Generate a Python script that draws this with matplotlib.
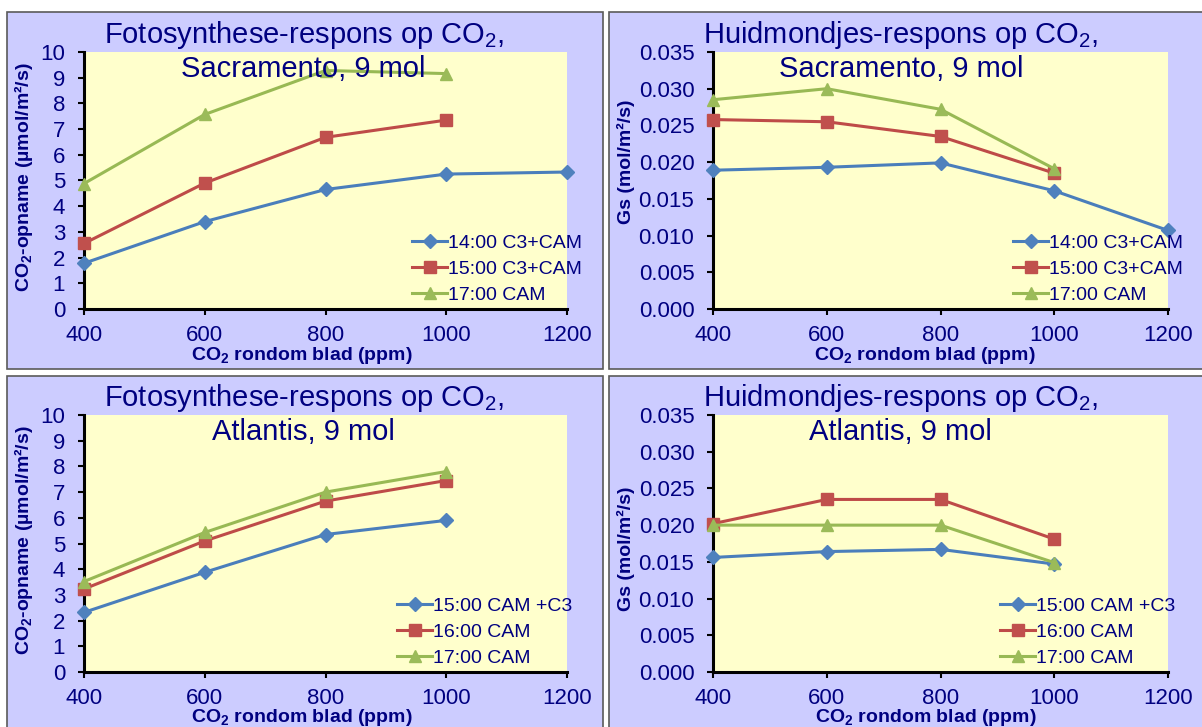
import matplotlib
matplotlib.use("Agg")
import matplotlib.pyplot as plt
from matplotlib.patches import Rectangle
from matplotlib.ticker import MultipleLocator, FormatStrFormatter

plt.rcParams['font.family'] = ['Liberation Sans', 'DejaVu Sans']
plt.rcParams['mathtext.fontset'] = 'custom'
plt.rcParams['mathtext.rm'] = 'Liberation Sans'
plt.rcParams['mathtext.it'] = 'Liberation Sans:italic'
plt.rcParams['mathtext.bf'] = 'Liberation Sans:bold'

# ==========================================
# data
# ==========================================
co2_ppm = [400, 600, 800, 1000, 1200]

# Sacramento, 9 mol
sac_labels = ["14:00 C3+CAM", "15:00 C3+CAM", "17:00 CAM"]
sac_foto_1400 = [1.78, 3.40, 4.65, 5.25, 5.33]
sac_foto_1500 = [2.55, 4.90, 6.68, 7.35]
sac_foto_1700 = [4.88, 7.57, 9.28, 9.16]
sac_gs_1400 = [0.0189, 0.0193, 0.0199, 0.0161, 0.0107]
sac_gs_1500 = [0.0258, 0.0255, 0.0235, 0.0185]
sac_gs_1700 = [0.0285, 0.0300, 0.0272, 0.0191]

# Atlantis, 9 mol
atl_labels = ["15:00 CAM +C3", "16:00 CAM", "17:00 CAM"]
atl_foto_1500 = [2.32, 3.88, 5.35, 5.90]
atl_foto_1600 = [3.23, 5.10, 6.65, 7.45]
atl_foto_1700 = [3.52, 5.43, 7.00, 7.80]
atl_gs_1500 = [0.0156, 0.0164, 0.0167, 0.0147]
atl_gs_1600 = [0.0202, 0.0235, 0.0235, 0.0181]
atl_gs_1700 = [0.0200, 0.0200, 0.0200, 0.0149]

# ==========================================
# styling
# ==========================================
W, H = 1202, 727
NAVY = "#000080"
PANEL = "#CCCCFF"
PLOT_BG = "#FFFFCC"
line_cols = ["#4A7EBB", "#BE4B48", "#98B954"]
mark_cols = ["#4F81BD", "#C0504D", "#9BBB59"]
markers = [("D", 7), ("s", 8), ("^", 9)]


def fx(px):
    return px / W


def fy(py):
    return 1 - py / H


fig = plt.figure(figsize=(W / 100, H / 100), dpi=100, facecolor="white")

# lavender chart panels with a thin grey frame
for (x0, y0, x1, y1) in [(7, 12, 603, 369), (609, 12, 1212, 369),
                         (7, 376, 603, 740), (609, 376, 1212, 740)]:
    fig.patches.append(Rectangle((fx(x0), fy(y1)), fx(x1 - x0), (y1 - y0) / H,
                                 transform=fig.transFigure, facecolor=PANEL,
                                 edgecolor="#5a5a5a", linewidth=1.2, zorder=-1))


def make_panel(left, right, top, bottom, series, labels, ymax, ystep, yfmt,
               leg_x, title1, title2, t1x, t2x, t_base, xl_x, yl_text, yl_x, yl_y):
    ax = fig.add_axes([fx(left), fy(bottom), (right - left) / W, (bottom - top) / H])
    ax.set_zorder(1)
    ax.set_facecolor(PLOT_BG)
    for i, ys in enumerate(series):
        m, ms = markers[i]
        ax.plot(co2_ppm[:len(ys)], ys, color=line_cols[i], linewidth=2.2,
                marker=m, markersize=ms, markerfacecolor=mark_cols[i],
                markeredgecolor=mark_cols[i], label=labels[i], clip_on=False, zorder=3)
    ax.set_xlim(400, 1200)
    ax.set_ylim(0, ymax)
    ax.xaxis.set_major_locator(MultipleLocator(200))
    ax.yaxis.set_major_locator(MultipleLocator(ystep))
    ax.yaxis.set_major_formatter(FormatStrFormatter(yfmt))
    for s in ["top", "right"]:
        ax.spines[s].set_visible(False)
    for s in ["left", "bottom"]:
        ax.spines[s].set_linewidth(2.2)
        ax.spines[s].set_color("black")
    ax.tick_params(axis="both", direction="out", length=4.5, width=1.5,
                   colors="black", labelcolor=NAVY, labelsize=16)
    ax.tick_params(axis="x", pad=7)
    ax.tick_params(axis="y", pad=9)
    leg = ax.legend(loc="lower left", bbox_to_anchor=((leg_x - left) / (right - left), 0.02),
                    frameon=False, fontsize=14, handlelength=1.8, handletextpad=0.05,
                    labelspacing=0.42, borderpad=0, borderaxespad=0)
    for t in leg.get_texts():
        t.set_color(NAVY)
    fig.text(fx(t1x), fy(t_base), title1, ha="center", va="baseline",
             fontsize=21, color=NAVY, zorder=5)
    fig.text(fx(t2x), fy(t_base + 34), title2, ha="center", va="baseline",
             fontsize=21, color=NAVY, zorder=5)
    fig.text(fx(xl_x), fy(bottom + 46), r"CO$_\mathbf{2}$ rondom blad (ppm)",
             ha="center", va="center", fontsize=14, fontweight="bold", color=NAVY, zorder=5)
    fig.text(fx(yl_x), fy(yl_y), yl_text, ha="center", va="center", rotation=90,
             fontsize=14, fontweight="bold", color=NAVY, zorder=5)
    return ax


foto_ylabel = r"CO$_\mathbf{2}$-opname (µmol/m²/s)"
gs_ylabel = "Gs (mol/m²/s)"

# Fotosynthese-respons op CO2, Sacramento
make_panel(84, 567, 52, 309, [sac_foto_1400, sac_foto_1500, sac_foto_1700], sac_labels,
           10, 1, "%d", 412, r"Fotosynthese-respons op CO$_2$,", "Sacramento, 9 mol",
           304, 303, 43, 302, foto_ylabel, 24, 177)

# Huidmondjes-respons op CO2, Sacramento
make_panel(713, 1168, 52, 309, [sac_gs_1400, sac_gs_1500, sac_gs_1700], sac_labels,
           0.035, 0.005, "%.3f", 1013, r"Huidmondjes-respons op CO$_2$,", "Sacramento, 9 mol",
           901, 901, 43, 925, gs_ylabel, 626, 162)

# Fotosynthese-respons op CO2, Atlantis
make_panel(84, 567, 415, 672, [atl_foto_1500, atl_foto_1600, atl_foto_1700], atl_labels,
           10, 1, "%d", 397, r"Fotosynthese-respons op CO$_2$,", "Atlantis, 9 mol",
           304, 303, 406, 302, foto_ylabel, 24, 540)

# Huidmondjes-respons op CO2, Atlantis
make_panel(713, 1168, 415, 672, [atl_gs_1500, atl_gs_1600, atl_gs_1700], atl_labels,
           0.035, 0.005, "%.3f", 1000, r"Huidmondjes-respons op CO$_2$,", "Atlantis, 9 mol",
           901, 900, 406, 926, gs_ylabel, 626, 549)

fig.savefig("out.png", dpi=100, facecolor="white")
